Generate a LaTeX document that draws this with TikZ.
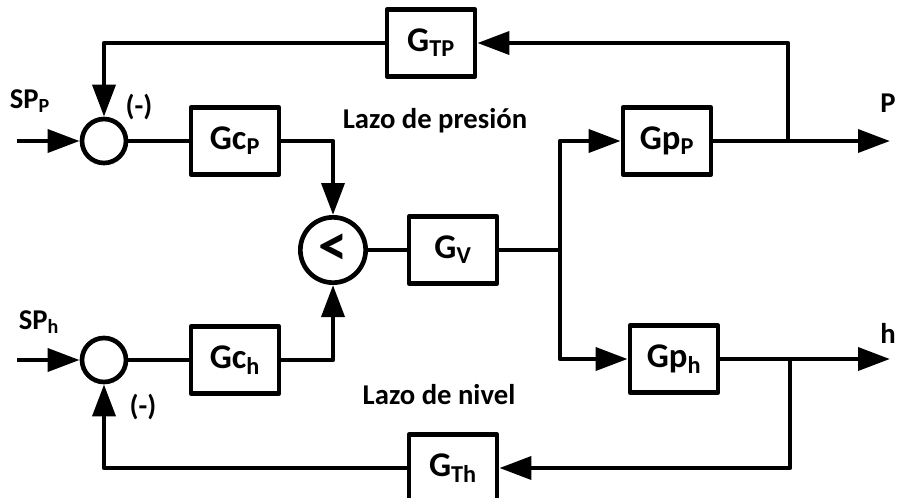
\documentclass[tikz,border=0pt]{standalone}
\usepackage{fontspec}
\setmainfont{Carlito}
\usetikzlibrary{arrows.meta}
\tikzset{
  my line style/.style={
    >={Triangle[length=24pt,width=17pt]}, % arrow tip style
    line width=3.5pt,                      % default line thickness
    line join=round,
  }
}
\tikzset{every path/.style={my line style}}
\tikzset{
  tfbox/.style={
    draw, rectangle, minimum width=66pt, minimum height=50pt, inner sep=0pt,
    font=\fontsize{26}{30}\selectfont\bfseries
  },
  sumcircle/.style={
    draw, circle, minimum size=33pt, inner sep=0pt
  },
  labeltext/.style={
    font=\fontsize{21.5}{25}\selectfont\bfseries
  }
}

\begin{document}
\begin{tikzpicture}[x=0.75pt, y=-0.75pt]
    \useasboundingbox (0,0) rectangle (899,497);

    % Sum points and min selector
    \node[sumcircle] (sumP) at (104,141) {};
    \node[sumcircle] (sumh) at (104,360) {};
    \node[sumcircle, minimum size=49pt, font=\fontsize{44}{44}\selectfont\bfseries] (minsel) at (333,250) {<};

    % Blocks
    \node[tfbox] (GcP) at (235,141) {Gc\textsubscript{P}};
    \node[tfbox] (Gch) at (235,360) {Gc\textsubscript{h}};
    \node[tfbox] (GV)  at (453,250) {G\textsubscript{V}};
    \node[tfbox] (GpP) at (667,141) {Gp\textsubscript{P}};
    \node[tfbox] (Gph) at (674,359) {Gp\textsubscript{h}};
    \node[tfbox] (GTP) at (431,43)  {G\textsubscript{TP}};
    \node[tfbox] (GTh) at (453,468) {G\textsubscript{Th}};

    % Free ends and branch points
    \coordinate (inP) at (17,141);
    \coordinate (inh) at (17,360);
    \coordinate (split) at (560,250);
    \coordinate (brP) at (788,141);
    \coordinate (brh) at (790,359);
    \coordinate (outP) at (890,141);
    \coordinate (outh) at (890,359);

    % Forward paths
    \draw[->] (inP) -- (sumP);
    \draw[->] (inh) -- (sumh);
    \draw (sumP) -- (GcP);
    \draw (sumh) -- (Gch);
    \draw[->] (GcP.east) -| (minsel.north);
    \draw[->] (Gch.east) -| (minsel.south);
    \draw (minsel) -- (GV);
    \draw (GV.east) -- (split);
    \draw[->] (split) |- (GpP.west);
    \draw[->] (split) |- (Gph.west);
    \draw[->] (GpP.east) -- (outP);
    \draw[->] (Gph.east) -- (outh);

    % Feedback paths
    \draw[->] (brP) |- (GTP.east);
    \draw[->] (GTP.west) -| (sumP.north);
    \draw[->] (brh) |- (GTh.east);
    \draw[->] (GTh.west) -| (sumh.south);

    % Labels
    \node[labeltext] (spP) at (30,101) {SP\textsubscript{P}};
    \node[labeltext] (sph) at (39,322) {SP\textsubscript{h}};
    \node[labeltext] (negP) at (139,107) {(-)};
    \node[labeltext] (negh) at (143,407) {(-)};
    \node[labeltext] (lazoP) at (435,121) {Lazo de presión};
    \node[labeltext] (lazoh) at (439,395) {Lazo de nivel};
    \node[labeltext, anchor=east, inner sep=0pt] (pout) at (898,103) {P};
    \node[labeltext] (hout) at (888,333) {h};
\end{tikzpicture}
\end{document}
